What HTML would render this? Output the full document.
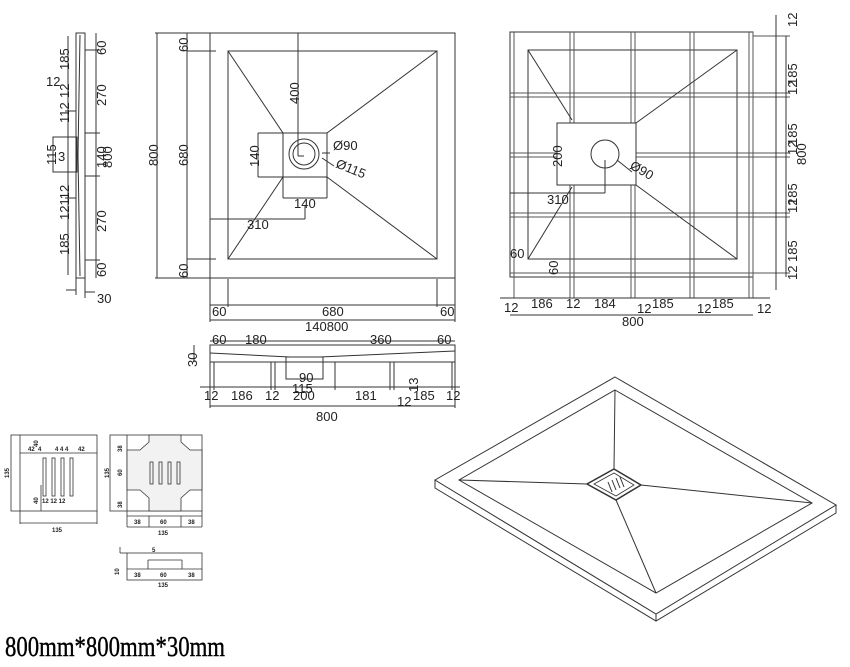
<!DOCTYPE html>
<html><head><meta charset="utf-8"><style>
html,body{margin:0;padding:0;background:#fff;width:850px;height:667px;overflow:hidden}
svg{display:block}
text{font-family:"Liberation Sans",sans-serif;font-size:13px;fill:#222}
.s{font-size:6px}
</style></head><body>
<svg width="850" height="667" viewBox="0 0 850 667" xmlns="http://www.w3.org/2000/svg">
<g stroke="#333" stroke-width="1" fill="none">
<!-- side view -->
<rect x="76" y="33" width="9" height="245"/>
<line x1="80" y1="35" x2="78" y2="155"/><line x1="78" y1="155" x2="80" y2="276"/>
<line x1="68" y1="36" x2="68" y2="275"/><line x1="96" y1="33" x2="96" y2="278"/>
<line x1="85" y1="50" x2="100" y2="50"/><line x1="85" y1="260" x2="100" y2="260"/>
<line x1="85" y1="133" x2="100" y2="133"/><line x1="85" y1="176" x2="100" y2="176"/>
<rect x="53" y="137" width="24" height="35"/>
<line x1="65" y1="111" x2="76" y2="111"/><line x1="65" y1="198" x2="76" y2="198"/>
<line x1="66" y1="290" x2="76" y2="290"/><line x1="85" y1="292" x2="95" y2="292"/>
<line x1="76" y1="278" x2="76" y2="295"/><line x1="85" y1="278" x2="85" y2="298"/>
<!-- main plan -->
<rect x="210" y="33" width="245" height="245"/>
<rect x="228" y="51" width="209" height="208"/>
<rect x="283" y="133" width="44" height="44"/>
<circle cx="304" cy="154" r="15"/><circle cx="304" cy="154" r="11"/>
<line x1="228" y1="51" x2="283" y2="133"/><line x1="437" y1="51" x2="327" y2="133"/>
<line x1="228" y1="259" x2="283" y2="177"/><line x1="437" y1="259" x2="327" y2="177"/>
<line x1="157" y1="33" x2="157" y2="278"/><line x1="155" y1="33" x2="210" y2="33"/><line x1="155" y1="278" x2="210" y2="278"/>
<line x1="187" y1="33" x2="187" y2="278"/><line x1="187" y1="51" x2="216" y2="51"/><line x1="187" y1="259" x2="216" y2="259"/>
<line x1="298" y1="33" x2="298" y2="156"/><line x1="298" y1="156" x2="304" y2="156"/>
<line x1="258" y1="133" x2="283" y2="133"/><line x1="258" y1="177" x2="283" y2="177"/><line x1="258" y1="133" x2="258" y2="177"/>
<line x1="283" y1="177" x2="283" y2="198"/><line x1="327" y1="177" x2="327" y2="198"/><line x1="283" y1="198" x2="327" y2="198"/>
<line x1="210" y1="219" x2="305" y2="219"/><line x1="305" y1="205" x2="305" y2="219"/>
<line x1="322" y1="153" x2="330" y2="153"/><line x1="322" y1="158" x2="334" y2="166"/>
<line x1="210" y1="278" x2="210" y2="322"/><line x1="455" y1="278" x2="455" y2="322"/>
<line x1="228" y1="279" x2="228" y2="307"/><line x1="437" y1="279" x2="437" y2="307"/>
<line x1="210" y1="305" x2="455" y2="305"/><line x1="210" y1="320" x2="455" y2="320"/>
<!-- section -->
<rect x="210" y="345" width="245" height="17"/>
<line x1="210" y1="353" x2="290" y2="357"/><line x1="320" y1="357" x2="455" y2="351"/>
<line x1="214" y1="362" x2="214" y2="390"/><line x1="452" y1="362" x2="452" y2="390"/>
<line x1="271" y1="362" x2="271" y2="390"/><line x1="275" y1="362" x2="275" y2="390"/>
<line x1="335" y1="362" x2="335" y2="390"/><line x1="390" y1="362" x2="390" y2="390"/><line x1="394" y1="362" x2="394" y2="390"/>
<rect x="286" y="357" width="37" height="22"/>
<line x1="200" y1="387" x2="460" y2="387"/><line x1="210" y1="406" x2="455" y2="406"/>
<line x1="210" y1="345" x2="210" y2="408"/><line x1="455" y1="345" x2="455" y2="408"/>
<line x1="210" y1="341" x2="455" y2="341"/><line x1="194" y1="345" x2="194" y2="362"/>
<!-- right plan -->
<rect x="510" y="32" width="243" height="245"/>
<rect x="528" y="50" width="209" height="209"/>
<g stroke="#555">
<line x1="570" y1="32" x2="570" y2="298"/><line x1="574" y1="32" x2="574" y2="298"/>
<line x1="631" y1="32" x2="631" y2="298"/><line x1="635" y1="32" x2="635" y2="298"/>
<line x1="690" y1="32" x2="690" y2="298"/><line x1="694" y1="32" x2="694" y2="298"/>
<line x1="749" y1="32" x2="749" y2="298"/><line x1="753" y1="32" x2="753" y2="298"/>
<line x1="514" y1="32" x2="514" y2="298"/>
<line x1="510" y1="93" x2="790" y2="93"/><line x1="510" y1="97" x2="790" y2="97"/>
<line x1="510" y1="153" x2="790" y2="153"/><line x1="510" y1="157" x2="790" y2="157"/>
<line x1="510" y1="213" x2="790" y2="213"/><line x1="510" y1="217" x2="790" y2="217"/>
<line x1="510" y1="273" x2="790" y2="273"/><line x1="753" y1="36" x2="790" y2="36"/>
</g>
<rect x="557" y="123" width="79" height="62" fill="#fff"/>
<circle cx="605" cy="154" r="14"/>
<line x1="528" y1="50" x2="572" y2="120"/><line x1="737" y1="50" x2="636" y2="123"/>
<line x1="528" y1="259" x2="572" y2="187"/><line x1="737" y1="259" x2="636" y2="185"/>
<line x1="510" y1="193" x2="605" y2="193"/><line x1="605" y1="160" x2="605" y2="193"/>
<line x1="617" y1="160" x2="632" y2="172"/>
<line x1="776" y1="15" x2="776" y2="290"/><line x1="786" y1="36" x2="786" y2="277"/>
<line x1="500" y1="298" x2="770" y2="298"/><line x1="510" y1="315" x2="753" y2="315"/>
<!-- 3D -->
<polygon points="615,377 836,505 656,614 435,480"/>
<polyline points="435,480 435,488 656,621 836,513 836,505"/>
<line x1="656" y1="614" x2="656" y2="621"/>
<polygon points="615,390 812,503 656,593 459,480"/>
<line x1="615" y1="390" x2="614" y2="469"/><line x1="459" y1="480" x2="587" y2="484"/>
<line x1="812" y1="503" x2="641" y2="485"/><line x1="656" y1="593" x2="616" y2="500"/>
<polygon points="614,469 641,485 616,500 587,484" stroke-width="1.5"/>
<polygon points="614,473 634,485 616,496 594,484" stroke-width="0.8"/>
<line x1="608" y1="482" x2="612" y2="492"/><line x1="612" y1="480" x2="616" y2="490"/><line x1="616" y1="478" x2="620" y2="488"/><line x1="620" y1="477" x2="624" y2="487"/>
<!-- small details -->
<g stroke-width="0.8">
<rect x="11" y="435" width="86" height="76"/>
<line x1="20" y1="435" x2="20" y2="524"/><line x1="97" y1="511" x2="97" y2="524"/><line x1="20" y1="523" x2="97" y2="523"/>
<line x1="20" y1="453" x2="97" y2="453"/>
<rect x="43" y="458" width="3" height="38"/><rect x="52" y="458" width="3" height="38"/><rect x="61" y="458" width="3" height="38"/><rect x="70" y="458" width="3" height="38"/>
<line x1="41" y1="485" x2="41" y2="511"/>
<rect x="110" y="435" width="92" height="76"/>
<line x1="127" y1="435" x2="127" y2="527"/><line x1="202" y1="511" x2="202" y2="527"/><line x1="127" y1="527" x2="202" y2="527"/>
<line x1="127" y1="516" x2="202" y2="516"/>
<line x1="149" y1="516" x2="149" y2="527"/><line x1="181" y1="516" x2="181" y2="527"/>
<polygon points="149,435 181,435 181,442 190,450 202,450 202,490 190,490 181,498 181,511 149,511 149,498 140,490 127,490 127,450 140,450 149,442" fill="#f2f2f2"/>
<rect x="150" y="462" width="3" height="22"/><rect x="159" y="462" width="3" height="22"/><rect x="168" y="462" width="3" height="22"/><rect x="177" y="462" width="3" height="22"/>
<rect x="127" y="553" width="75" height="27"/>
<line x1="127" y1="569" x2="202" y2="569"/>
<line x1="148" y1="560" x2="148" y2="569"/><line x1="182" y1="560" x2="182" y2="569"/><line x1="148" y1="560" x2="182" y2="560"/>
<line x1="120" y1="547" x2="120" y2="553"/><line x1="120" y1="553" x2="127" y2="553"/>
</g>
</g>
<!-- text: side view -->
<g>
<text transform="translate(69,70) rotate(-90)">185</text>
<text x="46" y="86">12</text>
<text transform="translate(69,98) rotate(-90)">12</text>
<text transform="translate(69,123) rotate(-90)">112</text>
<text transform="translate(56,165) rotate(-90)">115</text>
<text x="58" y="161">3</text>
<text transform="translate(69,220) rotate(-90)">12112</text>
<text transform="translate(69,255) rotate(-90)">185</text>
<text transform="translate(106,55) rotate(-90)">60</text>
<text transform="translate(106,106) rotate(-90)">270</text>
<text transform="translate(106,168) rotate(-90)">140</text>
<text transform="translate(112,168) rotate(-90)">800</text>
<text transform="translate(106,232) rotate(-90)">270</text>
<text transform="translate(106,277) rotate(-90)">60</text>
<text x="97" y="303">30</text>
<!-- main plan -->
<text transform="translate(158,166) rotate(-90)">800</text>
<text transform="translate(188,52) rotate(-90)">60</text>
<text transform="translate(188,166) rotate(-90)">680</text>
<text transform="translate(188,278) rotate(-90)">60</text>
<text transform="translate(299,104) rotate(-90)">400</text>
<text transform="translate(259,167) rotate(-90)">140</text>
<text x="333" y="150">Ø90</text>
<text transform="translate(335,167) rotate(22)">Ø115</text>
<text x="294" y="208">140</text>
<text x="247" y="229">310</text>
<text x="212" y="316">60</text>
<text x="322" y="316">680</text>
<text x="440" y="316">60</text>
<text x="305" y="331">140800</text>
<!-- section -->
<text x="212" y="344">60</text><text x="245" y="344">180</text><text x="370" y="344">360</text><text x="437" y="344">60</text>
<text transform="translate(197,367) rotate(-90)">30</text>
<text x="204" y="400">12</text><text x="231" y="400">186</text><text x="265" y="400">12</text><text x="293" y="400">200</text>
<text x="355" y="400">181</text><text x="397" y="406">12</text><text x="413" y="400">185</text><text x="446" y="400">12</text>
<text x="299" y="382">90</text><text x="292" y="393">115</text>
<text transform="translate(418,392) rotate(-90)">13</text>
<text x="316" y="421">800</text>
<!-- right plan -->
<text transform="translate(797,27) rotate(-90)">12</text>
<text transform="translate(797,85) rotate(-90)">185</text>
<text transform="translate(797,95) rotate(-90)">12</text>
<text transform="translate(797,145) rotate(-90)">185</text>
<text transform="translate(797,155) rotate(-90)">12</text>
<text transform="translate(806,165) rotate(-90)">800</text>
<text transform="translate(797,205) rotate(-90)">185</text>
<text transform="translate(797,213) rotate(-90)">12</text>
<text transform="translate(797,262) rotate(-90)">185</text>
<text transform="translate(797,280) rotate(-90)">12</text>
<text transform="translate(562,167) rotate(-90)">200</text>
<text x="547" y="204">310</text>
<text transform="translate(629,168) rotate(30)">Ø90</text>
<text x="510" y="258">60</text>
<text transform="translate(558,275) rotate(-90)">60</text>
<text x="504" y="312">12</text><text x="531" y="308">186</text><text x="566" y="308">12</text><text x="594" y="308">184</text>
<text x="637" y="313">12</text><text x="652" y="308">185</text><text x="697" y="313">12</text><text x="712" y="308">185</text><text x="757" y="313">12</text>
<text x="622" y="326">800</text>
<!-- small -->
<g font-weight="bold">
<text class="s" transform="translate(9,478) rotate(-90)">135</text>
<text class="s" x="28" y="451">42</text><text class="s" x="38" y="451">4</text><text class="s" x="55" y="451">4 4 4</text><text class="s" x="78" y="451">42</text>
<text class="s" transform="translate(38,447) rotate(-90)">40</text>
<text class="s" transform="translate(38,504) rotate(-90)">40</text>
<text class="s" x="42" y="503">12 12 12</text>
<text class="s" x="52" y="532">135</text>
<text class="s" transform="translate(109,478) rotate(-90)">135</text>
<text class="s" transform="translate(122,452) rotate(-90)">38</text>
<text class="s" transform="translate(122,476) rotate(-90)">60</text>
<text class="s" transform="translate(122,508) rotate(-90)">38</text>
<text class="s" x="134" y="524">38</text><text class="s" x="160" y="524">60</text><text class="s" x="188" y="524">38</text>
<text class="s" x="158" y="535">135</text>
<text class="s" transform="translate(119,575) rotate(-90)">10</text>
<text class="s" x="152" y="552">5</text>
<text class="s" x="134" y="577">38</text><text class="s" x="160" y="577">60</text><text class="s" x="188" y="577">38</text>
<text class="s" x="158" y="587">135</text>
</g>
</g>
<text x="5" y="656" textLength="220" lengthAdjust="spacingAndGlyphs" style="font-family:'Liberation Serif',serif;font-size:29px;fill:#000;stroke:#000;stroke-width:0.4">800mm*800mm*30mm</text>
</svg>
</body></html>
